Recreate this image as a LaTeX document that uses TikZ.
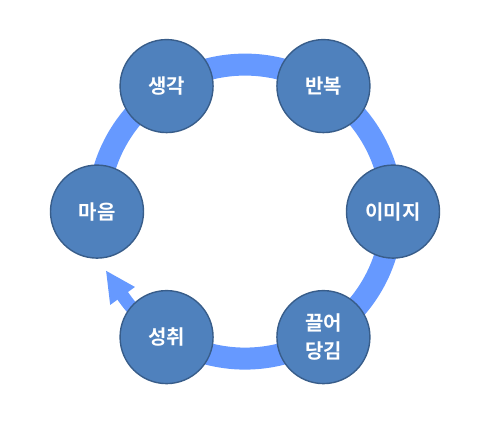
\documentclass[tikz,border=0pt]{standalone}
\usepackage{fontspec}
\usetikzlibrary{calc}
\newfontfamily\kr{Noto Sans CJK KR}[BoldFont={Noto Sans CJK KR Bold}]
\definecolor{ringblue}{HTML}{6699FF}
\definecolor{nodefill}{HTML}{4F81BD}
\definecolor{nodeline}{HTML}{385D8A}
\tikzset{
  stepnode/.style={circle, minimum size=93pt, inner sep=0pt, fill=nodefill, draw=nodeline, line width=1.4pt,
    text=white, font=\kr\bfseries\fontsize{20}{28}\selectfont, align=center},
  ringline/.style={draw=ringblue, line width=22pt},
  shaftline/.style={draw=ringblue, line width=13pt},
}
\begin{document}
\begin{tikzpicture}[x=1pt,y=1pt]
\useasboundingbox (0,0) rectangle (488,432);
\coordinate (C) at (245,220.4);
% ring
\draw[ringline] ($(C)+(180:147)$) arc[start angle=180, end angle=-120, radius=147];
\draw[shaftline] ($(C)+(-120:148.5)$) arc[start angle=-120, end angle=-146, radius=148.5];
\coordinate (tip) at ($(C)+(-156.9:151)$);
\coordinate (hA) at ($(C)+(-145.3:164)$);
\coordinate (hB) at ($(C)+(-145.6:133.4)$);
\fill[ringblue] (tip) -- (hA) -- (hB) -- cycle;
% nodes
\node[stepnode] (maeum) at ($(C)+(180:148)$) {마음};
\node[stepnode] (saenggak) at ($(C)+(122:148)$) {생각};
\node[stepnode] (banbok) at ($(C)+(58:148)$) {반복};
\node[stepnode] (imiji) at ($(C)+(0:148)$) {이미지};
\node[stepnode] (kkeul) at ($(C)+(-58:148)$) {끌어\\당김};
\node[stepnode] (seongchwi) at ($(C)+(-122:148)$) {성취};
\end{tikzpicture}
\end{document}
